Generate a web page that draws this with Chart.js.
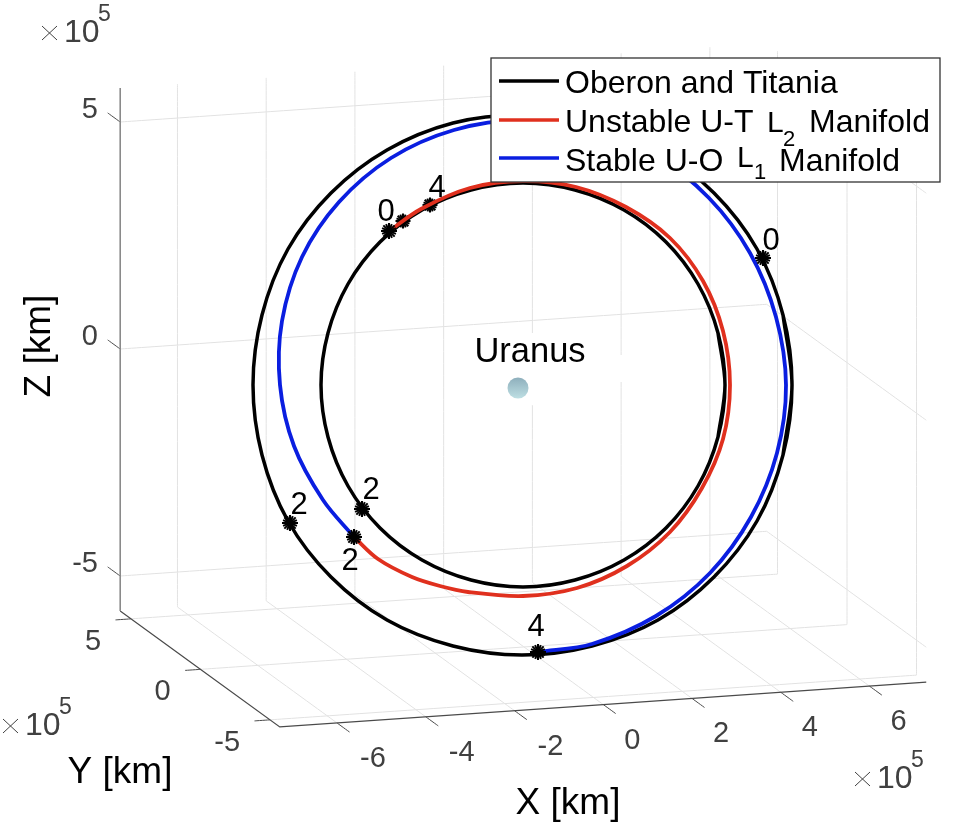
<!DOCTYPE html>
<html><head><meta charset="utf-8">
<style>html,body{margin:0;padding:0;background:#fff}canvas{display:block}</style>
<script src="https://cdn.jsdelivr.net/npm/chart.js@4"></script>
</head><body>
<canvas id="c" width="956" height="828"></canvas>
<script>
// ---- values (view-plane coordinates of the projected 3-D plot)
const oberonX = [792,783,757,714,658,592,522,453,387,331,288,262,253,262,288,331,387,453,522,592,658,714,757,783];
const oberonY = [385,455,521,577,620,646,655,646,620,577,521,455,385,315,249,193,150,123,115,123,150,193,249,315];
const titaniaX = [725,718,698,666,624,575,523,471,422,380,348,328,321,328,348,380,422,471,523,575,624,666,698,718];
const titaniaY = [385,437,486,528,560,580,587,580,560,528,486,437,385,333,284,242,210,190,183,190,210,242,284,333];
const unstableX = [389,421,470,523,576,626,670,703,723,730,723,702,670,627,577,523,468,440,412,378,354];
const unstableY = [231,209,188,181,187,207,238,281,331,385,439,488,532,566,588,596,592,586,577,559,537];
const stableX = [538,592,656,710,751,777,786,776,750,709,655,591,522,454,391,339,302,282,280,294,323,354];
const stableY = [652,644,616,573,517,453,385,317,253,198,155,129,120,130,158,202,257,321,385,446,500,537];
const markerX = [389,763,362,290,354,538];
const markerY = [231,258,509,523,537,652];
const coveredMarkerX = [403,430];
const coveredMarkerY = [221,205];
const uranusX = [518];
const uranusY = [388];
const markerLabels = ['0','4','0','2','2','2','4'];
const markerLabelX = [386,437,771,299,371,350,536];
const markerLabelY = [212,188,241,505,490,561,627];
const xTicks = [-6,-4,-2,0,2,4,6];
const yTicks = [5,0,-5];
const zTicks = [5,0,-5];
const legendNames = ['Oberon and Titania','Unstable U-T','Stable U-O'];

// ---- projection of the 3-D box (layout only)
const O = {sx:524, sy:385, xx:44.37, xy:-3.07, yx:-13.9, yy:-10.1, zy:-45.4};
const lim = {x0:-7.29, x1:7.28, y0:-5.7, y1:5.78, z0:-5.77, z1:5.75};
const P = (x,y,z)=>({x:O.sx+O.xx*x+O.yx*y, y:O.sy+O.xy*x+O.yy*y+O.zy*z});
const BREAK = {x:NaN,y:NaN};
const pts = (xs,ys)=>xs.map((x,i)=>({x,y:ys[i]}));
const loop = (xs,ys)=>{const p=pts(xs,ys);return [p[p.length-1],...p,p[0],p[1]];};

const grid=[];
const seg=(a,b)=>grid.push(a,b,BREAK);
xTicks.forEach(x=>{
  seg(P(x,lim.y1,lim.z0),P(x,lim.y1,lim.z1));     // back wall vertical
  seg(P(x,lim.y1,lim.z0),P(x,lim.y0,lim.z0));     // floor
});
yTicks.forEach(y=>{
  seg(P(lim.x1,y,lim.z0),P(lim.x1,y,lim.z1));     // side wall vertical
  seg(P(lim.x0,y,lim.z0),P(lim.x1,y,lim.z0));     // floor
});
zTicks.forEach(z=>{
  seg(P(lim.x0,lim.y1,z),P(lim.x1,lim.y1,z));     // back wall
  seg(P(lim.x1,lim.y1,z),P(lim.x1,lim.y0,z));     // side wall
});
const tickMarks=[];
const tseg=(a,b)=>tickMarks.push(a,b,BREAK);
xTicks.forEach(x=>tseg(P(x,lim.y0,lim.z0),P(x,lim.y0-0.9,lim.z0)));
yTicks.forEach(y=>tseg(P(lim.x0,y,lim.z0),P(lim.x0-0.35,y,lim.z0)));
zTicks.forEach(z=>tseg(P(lim.x0,lim.y1,z),P(lim.x0,lim.y1+0.9,z)));

const ZAXIS='#8a8a8a', AXIS='#4a4a4a', GRID='#e2e2e2', TXT='#404040';
// a tiny tension keeps Chart.js from using its x-monotonic fast path
const line=(data,color,width,order,extra)=>Object.assign({type:'scatter',showLine:true,data,borderColor:color,borderWidth:width,pointRadius:0,tension:0.00001,spanGaps:false,order,fill:false},extra||{});
const smooth={tension:0.33,borderCapStyle:'round'};
const star=(label,xs,ys,radius,rotation,order)=>({type:'scatter',label,data:pts(xs,ys),pointStyle:'star',pointRadius:radius,pointBorderColor:'#000',pointBorderWidth:2,pointRotation:rotation,order});

const labelsPlugin={id:'labels',
 afterDatasetsDraw(ch){
  const c=ch.ctx, sx=ch.scales.x, sy=ch.scales.y;
  const T=(s,x,y,font,color,align,base)=>{c.font=font;c.fillStyle=color;c.textAlign=align||'center';c.textBaseline=base||'middle';c.fillText(s,x,y);};
  const F=n=>n+'px "Liberation Sans"';
  c.save();
  // white patches behind the Uranus annotation
  c.fillStyle='#fff';c.fillRect(529,333,7,72);c.fillRect(617,355,8,27);
  // tick labels
  xTicks.forEach(v=>{const p=P(v,lim.y0,lim.z0);T(String(v),sx.getPixelForValue(p.x)+(v<0?36:29),sy.getPixelForValue(p.y)+36,F(29),TXT);});
  yTicks.forEach(v=>{const p=P(lim.x0,v,lim.z0);T(String(v),sx.getPixelForValue(p.x)-30,sy.getPixelForValue(p.y)+23,F(29),TXT,'right');});
  zTicks.forEach(v=>{const p=P(lim.x0,lim.y1,v);T(String(v),98,sy.getPixelForValue(p.y)-12,F(29),TXT,'right');});
  // exponents
  const expo=(x,y)=>{
    c.strokeStyle=TXT;c.lineWidth=1;c.beginPath();
    c.moveTo(x,y-7);c.lineTo(x+15,y+7);c.moveTo(x+15,y-7);c.lineTo(x,y+7);c.stroke();
    T('10',x+22,y,F(32),TXT,'left');
    T('5',x+56,y-18,F(23),TXT,'left');
  };
  expo(42,33);expo(3,726);expo(855,779);
  // axis titles
  T('Y [km]',120,773,F(37),'#000');
  T('X [km]',568,804,F(37),'#000');
  c.save();c.translate(40,346);c.rotate(-Math.PI/2);T('Z [km]',0,0,F(37),'#000');c.restore();
  // point labels
  markerLabels.forEach((s,i)=>T(s,sx.getPixelForValue(markerLabelX[i]),sy.getPixelForValue(markerLabelY[i]),F(31),'#000'));
  T('Uranus',530,352,F(34.5),'#000');
  // legend box
  c.fillStyle='#fff';c.fillRect(491,58,449,124);
  c.strokeStyle='#333';c.lineWidth=1.3;c.strokeRect(491,58,449,124);
  c.lineWidth=3.6;c.lineCap='butt';
  [['#000',81],['#e0301e',120],['#0a1ee0',158]].forEach(([col,y])=>{c.strokeStyle=col;c.beginPath();c.moveTo(499,y);c.lineTo(559,y);c.stroke();});
  const B='alphabetic';
  T(legendNames[0],565,93,F(32),'#000','left',B);
  T(legendNames[1],565,132,F(32),'#000','left',B);
  T('L',767,132,F(30),'#000','left',B);
  T('2',783,146,F(22),'#000','left',B);
  T('Manifold',809,132,F(32),'#000','left',B);
  T(legendNames[2],565,171,F(32),'#000','left',B);
  T('L',737,167,F(30),'#000','left',B);
  T('1',754,179,F(22),'#000','left',B);
  T('Manifold',779,171,F(32),'#000','left',B);
  c.restore();
 }};

new Chart(document.getElementById('c'),{
 type:'scatter',
 data:{datasets:[
  line(grid,GRID,1,9,{label:'grid'}),
  line(tickMarks,AXIS,1,8,{label:'ticks'}),
  line([P(lim.x0,lim.y1,lim.z0),P(lim.x0,lim.y1,lim.z1)],ZAXIS,1.6,7,{label:'z axis'}),
  line([P(lim.x0,lim.y1,lim.z0),P(lim.x0,lim.y0,lim.z0),P(lim.x1,lim.y0,lim.z0)],AXIS,1.2,7,{label:'xy axes'}),
  line(loop(oberonX,oberonY),'#000',3.5,5,Object.assign({label:'Oberon'},smooth)),
  line(loop(titaniaX,titaniaY),'#000',3.5,5,Object.assign({label:'Titania'},smooth)),
  star('covered markers',coveredMarkerX,coveredMarkerY,7.5,0,6),
  star('covered markers 2',coveredMarkerX,coveredMarkerY,7,22,6),
  line(pts(unstableX,unstableY),'#e0301e',3.8,4,Object.assign({label:'Unstable U-T L2 Manifold'},smooth)),
  line(pts(stableX,stableY),'#0a1ee0',3.8,3,Object.assign({label:'Stable U-O L1 Manifold'},smooth)),
  star('markers',markerX,markerY,8,0,2),
  star('markers 2',markerX,markerY,7.5,22,2),
  {type:'scatter',label:'Uranus',data:pts(uranusX,uranusY),pointStyle:'circle',pointRadius:10.5,pointBorderWidth:0,order:1,
   pointBackgroundColor(ctx){const g=ctx.chart.ctx.createLinearGradient(0,378,0,399);g.addColorStop(0,'#8fb0bd');g.addColorStop(1,'#bfe0e4');return g;}}
 ]},
 options:{responsive:false,animation:false,
  layout:{padding:0,autoPadding:false},
  plugins:{legend:{display:false},tooltip:{enabled:false},title:{display:false}},
  scales:{
   x:{type:'linear',min:0,max:956,display:false},
   y:{type:'linear',min:0,max:828,reverse:true,display:false}}
 },
 plugins:[labelsPlugin]
});
</script>
</body></html>
